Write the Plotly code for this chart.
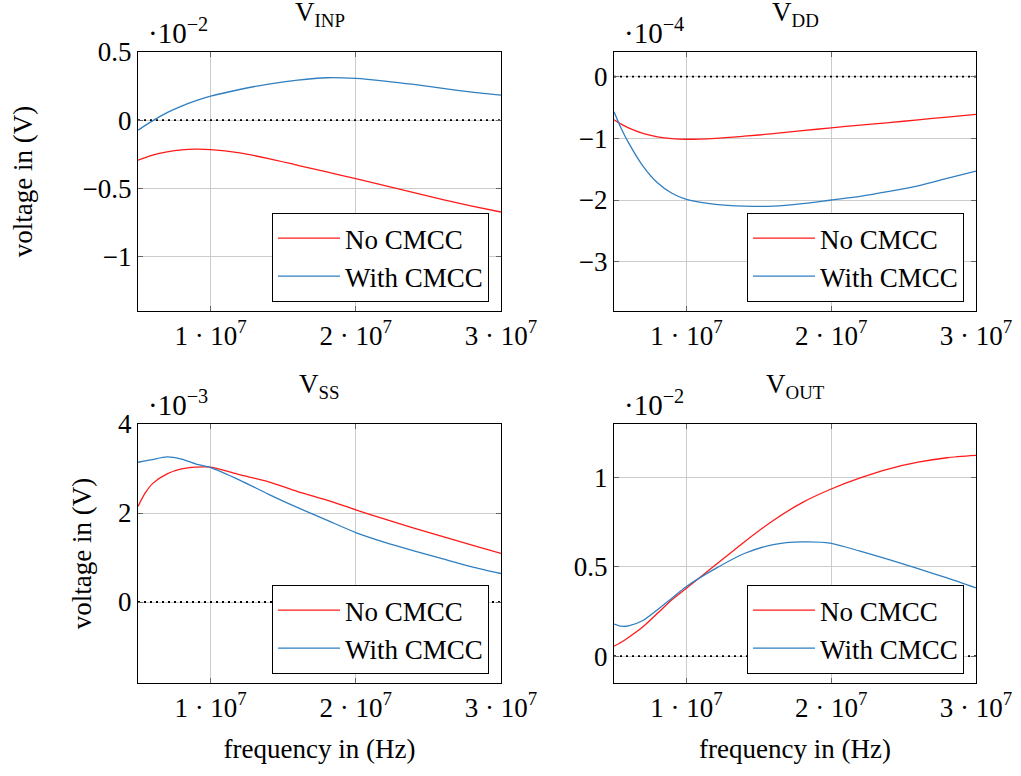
import plotly.graph_objects as go

# ---------------- data ----------------
freq_mhz = [5, 5.5, 6, 7, 8, 9, 10, 12, 14, 16, 18, 20, 22, 24, 26, 28, 30]
freq_hz = [f * 1e6 for f in freq_mhz]

# V_INP (units of 1e-2 V)
vinp_no = [-0.294, -0.275, -0.257, -0.233, -0.218, -0.213, -0.216, -0.240, -0.282,
           -0.331, -0.380, -0.429, -0.480, -0.532, -0.583, -0.630, -0.674]
vinp_with = [-0.074, -0.038, -0.005, 0.055, 0.103, 0.143, 0.176, 0.225, 0.265,
             0.294, 0.311, 0.306, 0.287, 0.262, 0.233, 0.206, 0.184]

# V_DD (units of 1e-4 V)
vdd_no = [-0.70, -0.77, -0.83, -0.92, -0.975, -1.005, -1.015, -1.00, -0.965,
          -0.925, -0.875, -0.83, -0.785, -0.745, -0.70, -0.655, -0.61]
vdd_with = [-0.57, -0.84, -1.07, -1.45, -1.72, -1.89, -1.99, -2.07, -2.10,
            -2.10, -2.06, -2.00, -1.94, -1.86, -1.77, -1.65, -1.53]

# V_SS (units of 1e-3 V)
vss_no = [2.15, 2.45, 2.66, 2.88, 2.99, 3.03, 3.03, 2.86, 2.70,
          2.48, 2.29, 2.07, 1.86, 1.66, 1.47, 1.28, 1.09]
vss_with = [3.14, 3.17, 3.20, 3.26, 3.21, 3.10, 3.02, 2.74, 2.42,
            2.12, 1.84, 1.56, 1.34, 1.15, 0.97, 0.79, 0.64]

# V_OUT (units of 1e-2 V)
vout_no = [0.056, 0.078, 0.105, 0.165, 0.240, 0.316, 0.380, 0.510, 0.640,
           0.760, 0.860, 0.936, 0.998, 1.049, 1.086, 1.111, 1.124]
vout_with = [0.180, 0.168, 0.170, 0.200, 0.260, 0.325, 0.390, 0.490, 0.575,
             0.625, 0.640, 0.632, 0.588, 0.541, 0.490, 0.438, 0.382]

x_ticks = [1e7, 2e7, 3e7]
x_ticktext = ["1 · 10<sup>7</sup>", "2 · 10<sup>7</sup>", "3 · 10<sup>7</sup>"]

panels = [
    dict(title="V<sub>INP</sub>", exp="·10<sup>−2</sup>", no=vinp_no, wi=vinp_with,
         yr=[-1.4, 0.5], tv=[-1, -0.5, 0, 0.5], tt=["−1", "−0.5", "0", "0.5"]),
    dict(title="V<sub>DD</sub>", exp="·10<sup>−4</sup>", no=vdd_no, wi=vdd_with,
         yr=[-3.8, 0.4], tv=[-3, -2, -1, 0], tt=["−3", "−2", "−1", "0"]),
    dict(title="V<sub>SS</sub>", exp="·10<sup>−3</sup>", no=vss_no, wi=vss_with,
         yr=[-1.82, 4.0], tv=[0, 2, 4], tt=["0", "2", "4"]),
    dict(title="V<sub>OUT</sub>", exp="·10<sup>−2</sup>", no=vout_no, wi=vout_with,
         yr=[-0.15, 1.3], tv=[0, 0.5, 1], tt=["0", "0.5", "1"]),
]

W, H = 1021, 776
FONT = "Liberation Serif"
FS = 27
RED = "#ff1a1a"
BLUE = "#2f7fc1"

# plot area boxes in pixels: (left, right, top, bottom)
boxes = [(138, 501, 52, 311), (614, 976, 52, 311),
         (138, 501, 424, 683), (614, 976, 424, 683)]

fig = go.Figure()
annotations = []

for i, (p, (l, r, t, b)) in enumerate(zip(panels, boxes)):
    n = i + 1
    xa = "x" if n == 1 else f"x{n}"
    ya = "y" if n == 1 else f"y{n}"
    lg = "legend" if n == 1 else f"legend{n}"
    fig.add_trace(go.Scatter(x=[freq_hz[0], freq_hz[-1]], y=[0, 0], mode="lines",
                             line=dict(color="black", width=1.8, dash="2px,4px"),
                             showlegend=False, xaxis=xa, yaxis=ya, hoverinfo="skip"))
    fig.add_trace(go.Scatter(x=freq_hz, y=p["no"], mode="lines", name="No CMCC",
                             line=dict(color=RED, width=1.3, shape="spline", smoothing=0.7),
                             xaxis=xa, yaxis=ya, legend=lg))
    fig.add_trace(go.Scatter(x=freq_hz, y=p["wi"], mode="lines", name="With CMCC",
                             line=dict(color=BLUE, width=1.3, shape="spline", smoothing=0.7),
                             xaxis=xa, yaxis=ya, legend=lg))

    axcommon = dict(showline=True, linecolor="black", linewidth=1.2, mirror="ticks",
                    ticks="inside", ticklen=5, tickcolor="#666666", tickwidth=1,
                    showgrid=True, gridcolor="#cccccc", gridwidth=1, zeroline=False,
                    automargin=False,
                    tickfont=dict(family=FONT, size=FS, color="black"))
    xkey = "xaxis" if n == 1 else f"xaxis{n}"
    ykey = "yaxis" if n == 1 else f"yaxis{n}"
    xdict = dict(domain=[l / W, r / W], anchor=ya, range=[5e6, 3e7],
                 tickvals=x_ticks, ticktext=x_ticktext, **axcommon)
    ydict = dict(domain=[1 - b / H, 1 - t / H], anchor=xa, range=p["yr"],
                 tickvals=p["tv"], ticktext=p["tt"], **axcommon)
    if n == 1:
        ydict["title"] = dict(text="voltage in (V)", font=dict(family=FONT, size=FS, color="black"),
                              standoff=42)
    if n == 3:
        ydict["title"] = dict(text="voltage in (V)", font=dict(family=FONT, size=FS, color="black"),
                              standoff=18)
    if n in (3, 4):
        xdict["title"] = dict(text="frequency in (Hz)", font=dict(family=FONT, size=FS, color="black"),
                              standoff=17)
    fig.layout[xkey] = xdict
    fig.layout[ykey] = ydict

    # legend
    fig.layout[lg] = dict(x=(r - 12) / W, y=1 - (b - 9) / H, xanchor="right", yanchor="bottom",
                          bgcolor="white", bordercolor="black", borderwidth=1,
                          font=dict(family=FONT, size=27, color="black"),
                          tracegroupgap=0, itemwidth=62)

    # title
    annotations.append(dict(text=p["title"], x=(l + r) / 2 / W, y=1 - (t - 19) / H,
                            xref="paper", yref="paper", xanchor="center", yanchor="bottom",
                            showarrow=False, font=dict(family=FONT, size=FS, color="black")))
    # exponent label
    annotations.append(dict(text=p["exp"], x=(l + 8) / W, y=1 - (t - 1) / H,
                            xref="paper", yref="paper", xanchor="left", yanchor="bottom",
                            showarrow=False, font=dict(family=FONT, size=29, color="black")))

fig.update_layout(template="none", width=W, height=H, margin=dict(l=0, r=0, t=0, b=0),
                  paper_bgcolor="white", plot_bgcolor="white",
                  annotations=annotations, showlegend=True,
                  font=dict(family=FONT, size=FS, color="black"))

fig.write_html("out.html")
